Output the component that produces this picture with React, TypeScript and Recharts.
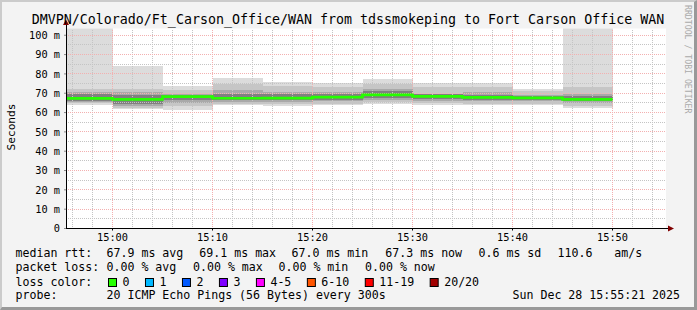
import React from 'react';
import { ComposedChart, Area, Line, XAxis, YAxis, CartesianGrid, ReferenceLine } from 'recharts';

const title = 'DMVPN/Colorado/Ft_Carson_Office/WAN from tdssmokeping to Fort Carson Office WAN';
const windowStart = '14:55:21';
const windowEnd = '15:55:21';
const binStarts = ['14:55', '15:00', '15:05', '15:10', '15:15', '15:20', '15:25', '15:30', '15:35', '15:40', '15:45'];
const binLastEnd = '15:50';

// smoke bands (ms), one value per 5-minute bin
const smokeMin = [63.9, 61.7, 61.2, 63.7, 63.4, 63.7, 64.6, 63.7, 63.7, 63.7, 62.3];
const smokeMax = [118.0, 84.0, 73.6, 77.9, 76.0, 75.3, 77.5, 75.3, 75.3, 72.2, 112.0];
const band2Lo = [64.8, 62.5, 63.5, 64.5, 64.3, 64.5, 65.5, 64.8, 64.5, 64.5, 63.5];
const band2Hi = [72.2, 72.4, 71.5, 75.0, 73.7, 73.2, 75.0, 73.2, 73.2, 71.0, 73.2];
const band3Lo = [65.5, 63.5, 65.0, 65.5, 65.5, 65.8, 66.5, 66.0, 65.8, 65.8, 65.0];
const band3Hi = [70.5, 70.6, 69.8, 71.5, 70.6, 70.6, 72.4, 69.8, 70.6, 69.3, 69.8];
const band4Lo = [66.2, 64.5, 66.5, 66.3, 66.3, 66.7, 67.5, 67.0, 66.7, 66.5, 65.8];
const band4Hi = [69.5, 69.0, 69.2, 69.8, 69.5, 69.6, 71.0, 69.5, 69.3, 68.8, 68.6];
const medianRtt = [67.3, 66.8, 68.2, 67.4, 67.5, 68.0, 69.2, 68.4, 67.9, 67.6, 66.8];

const xTickLabels = ['15:00', '15:10', '15:20', '15:30', '15:40', '15:50'];
const yTicks = [0, 10, 20, 30, 40, 50, 60, 70, 80, 90, 100];
const yMax = 103.5;

const lossLabels = ['0', '1', '2', '3', '4-5', '6-10', '11-19', '20/20'];
const lossColors = ['#26ff00', '#00b8ff', '#0059ff', '#7e00ff', '#ff00ff', '#ff5500', '#ff0000', '#a10000'];

const medianStats = ['67.9 ms avg', '69.1 ms max', '67.0 ms min', '67.3 ms now', '0.6 ms sd', '110.6', 'am/s'];
const lossStats = ['0.00 % avg', '0.00 % max', '0.00 % min', '0.00 % now'];
const probeText = '20 ICMP Echo Pings (56 Bytes) every 300s';
const stampText = 'Sun Dec 28 15:55:21 2025';

const toMin = (s: string) => {
  const p = s.split(':').map(Number);
  return p[0] * 60 + p[1] + (p[2] || 0) / 60 - 900;
};

const mkRow = (t: number, i: number) => ({
  t,
  b1: [smokeMin[i], smokeMax[i]],
  b2: [band2Lo[i], band2Hi[i]],
  b3: [band3Lo[i], band3Hi[i]],
  b4: [band4Lo[i], band4Hi[i]],
  med: medianRtt[i],
});
const rows = binStarts.map((s, i) => mkRow(toMin(s), i));
rows.push(mkRow(toMin(binLastEnd), binStarts.length - 1));

const xStart = toMin(windowStart);
const xEnd = toMin(windowEnd);
const xTicks = xTickLabels.map(toMin);

const xMinor: number[] = [];
for (let m = Math.ceil(xStart / 2) * 2; m <= xEnd; m += 2) if (m % 10 !== 0) xMinor.push(m);
const yMinor: number[] = [];
for (let v = 5; v < yMax; v += 10) yMinor.push(v);

const FONT = 'DejaVu Sans Mono';
const bands = [
  { key: 'b1', fill: '#dcdcdc' },
  { key: 'b2', fill: '#c6c6c6' },
  { key: 'b3', fill: '#a9a9a9' },
  { key: 'b4', fill: '#808080' },
];

export default function App() {
  const W = 697;
  const H = 310;
  const minorC = '#c4c4c4';
  const majorC = '#f3b0b0';

  let bx = 108;
  const boxes = lossLabels.map((lab, i) => {
    const x = bx;
    bx += 30 + 6.98 * lab.length;
    return (
      <g key={lab}>
        <rect x={x + 0.5} y={278.5} width={8} height={8} fill={lossColors[i]} stroke="#000" strokeWidth={1} />
        <text x={x + 14.5} y={285.5}>{lab}</text>
      </g>
    );
  });

  const row1X = [106.5, 199.3, 291.5, 385.3, 478.5, 557.5, 614.3];
  const row2X = [106.5, 193, 278.5, 365];

  return (
    <div style={{ position: 'absolute', left: 0, top: 0, width: W, height: H, background: '#f3f3f3', fontFamily: FONT }}>
      <div
        style={{
          position: 'absolute', left: 0, top: 0, width: W, height: H, boxSizing: 'border-box',
          borderTop: '2px solid #cbcbcb', borderLeft: '2px solid #cbcbcb',
          borderRight: '3px solid #999', borderBottom: '3px solid #999',
        }}
      />
      <div style={{ position: 'absolute', left: 0, top: 0 }}>
        <ComposedChart width={W} height={H} data={rows} margin={{ top: 28.5, right: 31, bottom: 51.5, left: 6 }}>
          <CartesianGrid fill="#ffffff" horizontal={false} vertical={false} stroke="none" />
          <XAxis
            dataKey="t" type="number" domain={[xStart, xEnd]} allowDataOverflow ticks={xTicks} interval={0}
            tickFormatter={(v: number) => xTickLabels[xTicks.indexOf(v)] ?? ''}
            height={30} tickSize={2} tickMargin={3}
            axisLine={{ stroke: '#000', shapeRendering: 'crispEdges' }} tickLine={{ stroke: '#000' }}
            tick={{ fill: '#000', fontSize: 10.3, fontFamily: FONT }}
          />
          <YAxis
            type="number" domain={[0, yMax]} allowDataOverflow ticks={yTicks} interval={0}
            tickFormatter={(v: number) => (v === 0 ? '0' : `${v} m`)}
            width={60} tickSize={2} tickMargin={4}
            axisLine={{ stroke: '#000', shapeRendering: 'crispEdges' }} tickLine={{ stroke: '#888' }}
            tick={{ fill: '#000', fontSize: 10.3, fontFamily: FONT }}
          />
          {bands.map((b) => (
            <Area
              key={b.key} dataKey={b.key} type="stepAfter" stroke="none" fill={b.fill} fillOpacity={1}
              isAnimationActive={false} dot={false} activeDot={false} shapeRendering="crispEdges"
            />
          ))}
          {yMinor.map((v) => (
            <ReferenceLine key={'ym' + v} y={v} stroke={minorC} strokeDasharray="1 1" shapeRendering="crispEdges" />
          ))}
          {xMinor.map((v) => (
            <ReferenceLine key={'xm' + v} x={v} stroke={minorC} strokeDasharray="1 1" shapeRendering="crispEdges" />
          ))}
          {yTicks.filter((v) => v > 0).map((v) => (
            <ReferenceLine key={'yM' + v} y={v} stroke={majorC} strokeDasharray="1 1" shapeRendering="crispEdges" />
          ))}
          {xTicks.map((v) => (
            <ReferenceLine key={'xM' + v} x={v} stroke={majorC} strokeDasharray="1 1" shapeRendering="crispEdges" />
          ))}
          <Line
            dataKey="med" type="stepAfter" stroke="#26ff00" strokeWidth={2.7} dot={false} activeDot={false}
            isAnimationActive={false}
          />
        </ComposedChart>
      </div>
      <svg width={W} height={H} style={{ position: 'absolute', left: 0, top: 0, pointerEvents: 'none' }} fontFamily={FONT}>
        <line x1={666} y1={228.5} x2={670} y2={228.5} stroke="#000" />
        <line x1={66} y1={24} x2={66} y2={29} stroke="#000" shapeRendering="crispEdges" />
        <polygon points="668,225.5 668,231.5 674,228.5" fill="#800000" />
        <polygon points="63,25 69,25 66,19.5" fill="#800000" />
        <text x={348} y={24} fontSize={13.3} textAnchor="middle" fill="#000">{title}</text>
        <text transform="translate(14.5,127) rotate(-90)" fontSize={11.2} textAnchor="middle" fill="#000">Seconds</text>
        <text transform="translate(684.5,5) rotate(90)" fontSize={8.2} fill="#aaaaaa">RRDTOOL / TOBI OETIKER</text>
        <g fontSize={11.6} fill="#000">
          <text x={15.5} y={257.3}>median rtt:</text>
          {medianStats.map((s, i) => (
            <text key={s + i} x={row1X[i]} y={257.3}>{s}</text>
          ))}
          <text x={15.5} y={271.3}>packet loss:</text>
          {lossStats.map((s, i) => (
            <text key={s + i} x={row2X[i]} y={271.3}>{s}</text>
          ))}
          <text x={15.5} y={285.5}>loss color:</text>
          {boxes}
          <text x={15.5} y={299.3}>probe:</text>
          <text x={106.5} y={299.3}>{probeText}</text>
          <text x={512.5} y={299.3}>{stampText}</text>
        </g>
      </svg>
    </div>
  );
}
